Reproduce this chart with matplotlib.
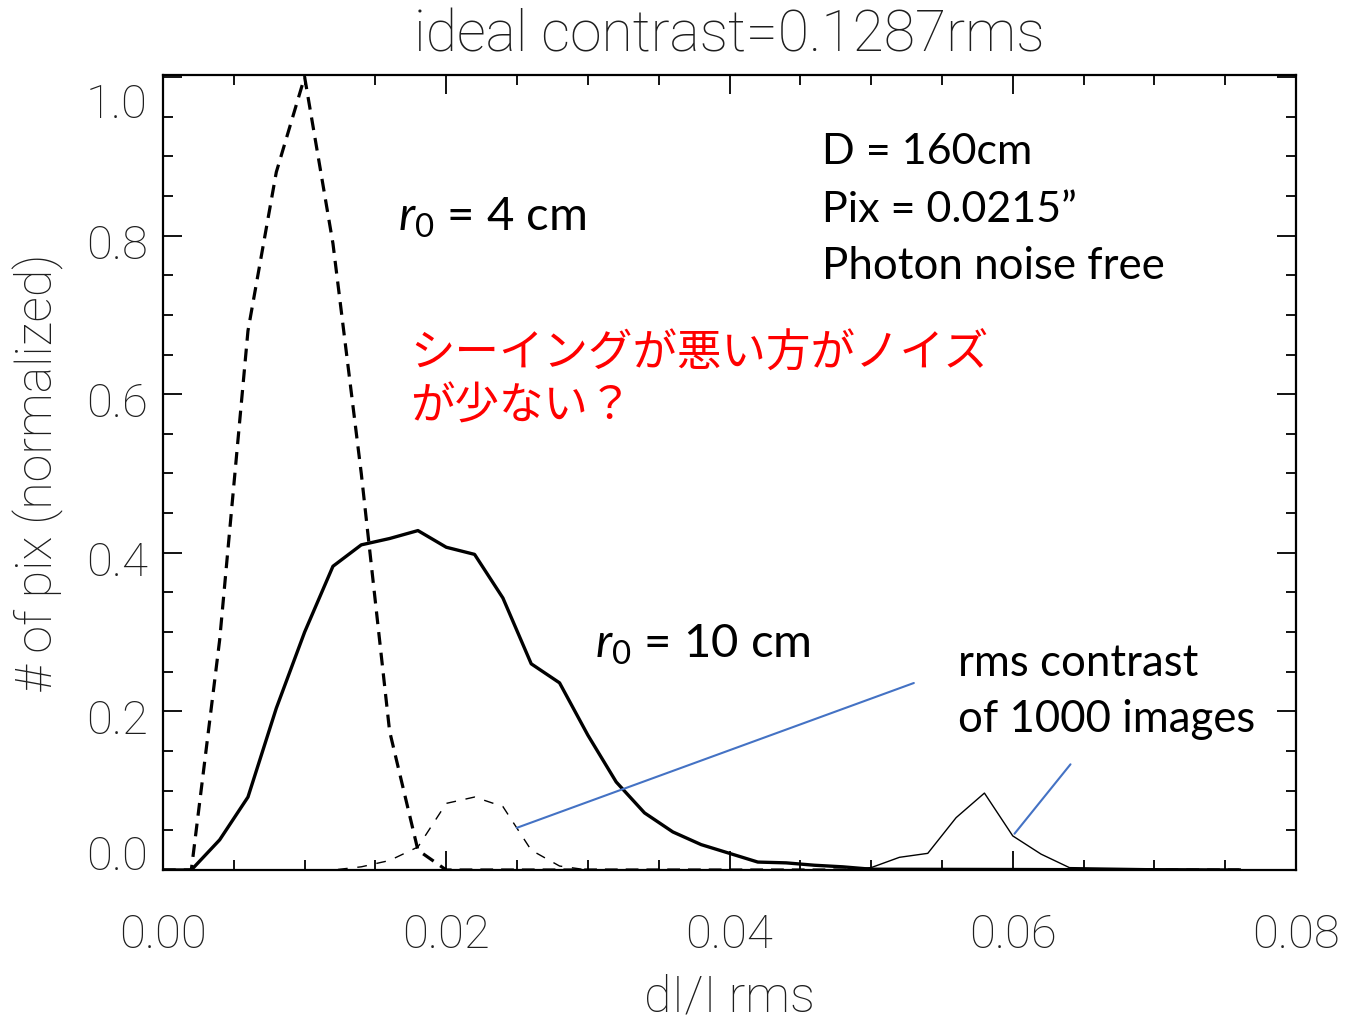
#!/usr/bin/env python3
"""
Histogram of dI/I rms for two seeing conditions (IDL style plot)
"""

import matplotlib
matplotlib.use('Agg')
import matplotlib.pyplot as plt
import matplotlib.transforms as mtransforms
from matplotlib.ticker import MultipleLocator

# r0 = 10 cm, thick solid
x_r10 = [0.000, 0.002, 0.004, 0.006, 0.008, 0.010, 0.012, 0.014, 0.016, 0.018,
         0.020, 0.022, 0.024, 0.026, 0.028, 0.030, 0.032, 0.034, 0.036, 0.038,
         0.040, 0.042, 0.044, 0.046, 0.048, 0.050, 0.076]
y_r10 = [0.0, 0.0, 0.038, 0.092, 0.204, 0.300, 0.383, 0.410, 0.418, 0.428,
         0.407, 0.398, 0.343, 0.260, 0.236, 0.170, 0.111, 0.072, 0.048, 0.032,
         0.021, 0.010, 0.009, 0.006, 0.004, 0.001, 0.0]

# r0 = 4 cm, thick dashed
x_r4 = [0.000, 0.002, 0.004, 0.006, 0.008, 0.010, 0.012, 0.014, 0.016, 0.018,
        0.020, 0.076]
y_r4 = [0.0, 0.0, 0.29, 0.68, 0.88, 1.0, 0.79, 0.50, 0.175, 0.025, 0.0, 0.0]

# rms contrast of 1000 images, r0 = 4 cm (thin dashed)
x_rms4 = [0.000, 0.012, 0.014, 0.016, 0.018, 0.020, 0.022, 0.024, 0.026, 0.028,
          0.030, 0.076]
y_rms4 = [0.0, 0.0, 0.004, 0.012, 0.029, 0.084, 0.092, 0.080, 0.025, 0.005,
          0.0, 0.0]

# rms contrast of 1000 images, r0 = 10 cm (thin solid)
x_rms10 = [0.000, 0.048, 0.050, 0.052, 0.054, 0.056, 0.058, 0.060, 0.062, 0.064,
           0.076]
y_rms10 = [0.0, 0.0, 0.003, 0.016, 0.021, 0.066, 0.097, 0.043, 0.020, 0.003,
           0.0]

x_ticks = [0.00, 0.02, 0.04, 0.06, 0.08]
y_ticks = [0.0, 0.2, 0.4, 0.6, 0.8, 1.0]

W, H = 1345, 1019
IDL_FONT = ['Roboto', 'DejaVu Sans']
IDL_COLOR = '#1e1e1e'
TXT_FONT = 'Lato'


def px(x, y):
    """ pixel position -> figure fraction """
    return x / W, 1 - y / H


plt.rcParams['mathtext.fontset'] = 'custom'
plt.rcParams['mathtext.it'] = TXT_FONT + ':italic'
plt.rcParams['mathtext.rm'] = TXT_FONT

fig = plt.figure(figsize=(W / 100, H / 100), dpi=100)
ax = fig.add_axes([163 / W, 1 - 870 / H, (1296 - 163) / W, (870 - 75) / H])

ax.plot(x_r4, y_r4, color='black', lw=2.3, dashes=(4, 2.5))
ax.plot(x_r10, y_r10, color='black', lw=2.4)
ax.plot(x_rms4, y_rms4, color='black', lw=1.0, dashes=(7, 7))
ax.plot(x_rms10, y_rms10, color='black', lw=1.0)

ax.set_xlim(0, 0.08)
ax.set_ylim(0, 1.0025)
ax.set_xticks(x_ticks)
ax.set_yticks(y_ticks)
ax.set_xticklabels(['%.2f' % v for v in x_ticks])
ax.set_yticklabels(['%.1f' % v for v in y_ticks])
ax.xaxis.set_minor_locator(MultipleLocator(0.005))
ax.yaxis.set_minor_locator(MultipleLocator(0.05))
ax.tick_params(which='both', direction='in', top=True, right=True, width=1.3,
               colors='black', labelcolor=IDL_COLOR)
ax.tick_params(which='major', length=14)
ax.tick_params(which='minor', length=7)
ax.tick_params(axis='x', which='major', pad=31, labelsize=34)
ax.tick_params(axis='y', which='major', pad=11, labelsize=34)
for lab in ax.get_xticklabels() + ax.get_yticklabels():
    lab.set_family(IDL_FONT)
    lab.set_weight('light')
for sp in ax.spines.values():
    sp.set_linewidth(1.6)

# IDL keeps the end labels inside the axis range, the others sit a bit low
yticks_obj = ax.yaxis.get_major_ticks()
shift = mtransforms.ScaledTranslation(0, -4 / 72, fig.dpi_scale_trans)
for i, t in enumerate(yticks_obj):
    if i == 0:
        t.label1.set_va('baseline')
    elif i == len(yticks_obj) - 1:
        t.label1.set_va('top')
        t.label1.set_transform(t.label1.get_transform() + shift)
    else:
        t.label1.set_transform(t.label1.get_transform() + shift)

ax.set_title('ideal contrast=0.1287rms', family=IDL_FONT, fontsize=41,
             weight='light', color=IDL_COLOR, pad=17)
ax.set_xlabel('dI/I rms', family=IDL_FONT, fontsize=36, weight='light',
              color=IDL_COLOR, labelpad=12)
ax.set_ylabel('# of pix (normalized)', family=IDL_FONT, fontsize=36,
              weight='light', color=IDL_COLOR, labelpad=16)

# annotations
fig.text(*px(822, 152), 'D = 160cm', family=TXT_FONT, fontsize=31, va='center')
fig.text(*px(822, 210), 'Pix = 0.0215\u201d', family=TXT_FONT, fontsize=31,
         va='center')
fig.text(*px(822, 267), 'Photon noise free', family=TXT_FONT, fontsize=31.5,
         va='center')
fig.text(*px(398, 218), r'$r_{\mathrm{0}}$ = 4 cm', family=TXT_FONT,
         fontsize=34, va='center')
fig.text(*px(595, 645), r'$r_{\mathrm{0}}$ = 10 cm', family=TXT_FONT,
         fontsize=34, va='center')
fig.text(*px(958, 663), 'rms contrast', family=TXT_FONT, fontsize=31.5,
         va='center')
fig.text(*px(958, 720), 'of 1000 images', family=TXT_FONT, fontsize=31.5,
         va='center')
fig.text(*px(410, 380), 'シーイングが悪い方がノイズ\nが少ない？',
         family=['Noto Sans CJK JP', 'DejaVu Sans'], fontsize=32, color='red',
         va='center', linespacing=1.2)

# pointer lines
ax.annotate('', xy=(0.0248, 0.052), xytext=(0.0532, 0.237),
            arrowprops=dict(arrowstyle='-', color='#4472C4', lw=1.5))
ax.annotate('', xy=(0.0600, 0.043), xytext=(0.0642, 0.136),
            arrowprops=dict(arrowstyle='-', color='#4472C4', lw=1.5))

fig.savefig('out.png', dpi=100)
plt.close(fig)
